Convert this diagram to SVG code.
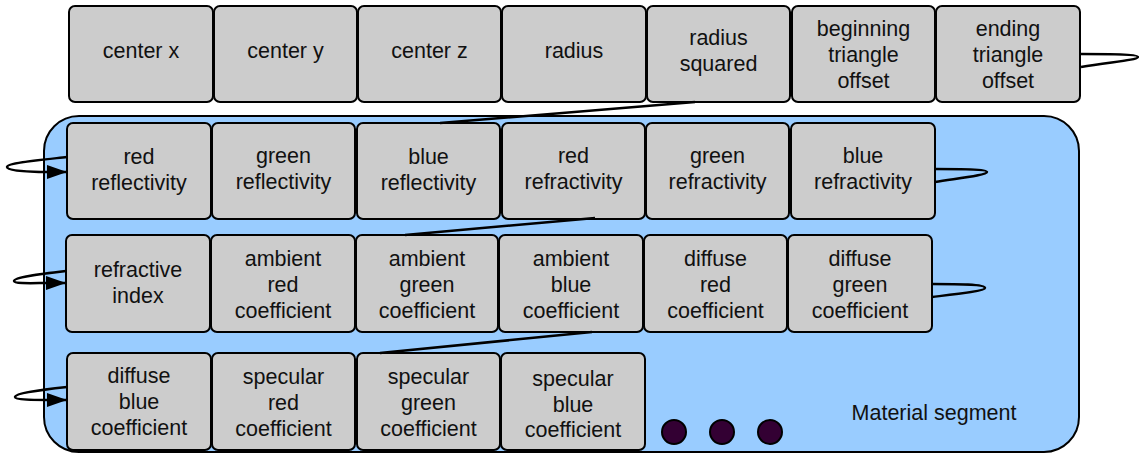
<svg xmlns="http://www.w3.org/2000/svg" width="1139" height="454" viewBox="0 0 1139 454">
  <style>
    .box { fill: #cccccc; stroke: #000; stroke-width: 2; }
    .lbl { font-family: "Liberation Sans", Arial, sans-serif; font-size: 21.5px; fill: #111; text-anchor: middle; }
    .seg { fill: #99ccff; stroke: #000; stroke-width: 2; }
    .dot { fill: #330033; stroke: #000; stroke-width: 2; }
    .wire { fill: none; stroke: #000; stroke-width: 2.5; }
  </style>
  <defs>
    <marker id="arrow" markerUnits="userSpaceOnUse" markerWidth="20" markerHeight="14" viewBox="0 0 20 14" refX="20" refY="7" orient="auto">
      <path d="M0,0 L20,7 L0,14 z" fill="#000"/>
    </marker>
  </defs>

  <!-- material segment container -->
  <g id="material-segment">
    <rect class="seg" x="44" y="116" width="1035" height="336" rx="35" ry="35"/>
    <text class="lbl" x="934" y="420">Material segment</text>
    <circle class="dot" cx="674" cy="432" r="12"/>
    <circle class="dot" cx="722" cy="432" r="12"/>
    <circle class="dot" cx="770" cy="432" r="12"/>
  </g>

  <!-- row 1: sphere geometry -->
  <g id="center-x"><rect class="box" x="69" y="6" width="144" height="96" rx="6"/><text class="lbl" x="141" y="58">center x</text></g>
  <g id="center-y"><rect class="box" x="214" y="6" width="143" height="96" rx="6"/><text class="lbl" x="285.5" y="58">center y</text></g>
  <g id="center-z"><rect class="box" x="358" y="6" width="143" height="96" rx="6"/><text class="lbl" x="429.5" y="58">center z</text></g>
  <g id="radius"><rect class="box" x="502" y="6" width="144" height="96" rx="6"/><text class="lbl" x="574" y="58">radius</text></g>
  <g id="radius-squared"><rect class="box" x="647" y="6" width="143" height="96" rx="6"/><text class="lbl" x="718.5" y="45">radius</text><text class="lbl" x="718.5" y="71">squared</text></g>
  <g id="beginning-triangle-offset"><rect class="box" x="792" y="6" width="143" height="96" rx="6"/><text class="lbl" x="863.5" y="36">beginning</text><text class="lbl" x="863.5" y="62">triangle</text><text class="lbl" x="863.5" y="88">offset</text></g>
  <g id="ending-triangle-offset"><rect class="box" x="936" y="6" width="144" height="96" rx="6"/><text class="lbl" x="1008" y="36">ending</text><text class="lbl" x="1008" y="62">triangle</text><text class="lbl" x="1008" y="88">offset</text></g>

  <!-- row 2 -->
  <g id="red-reflectivity"><rect class="box" x="67" y="123" width="144" height="96" rx="6"/><text class="lbl" x="139" y="164">red</text><text class="lbl" x="139" y="190">reflectivity</text></g>
  <g id="green-reflectivity"><rect class="box" x="212" y="123" width="143" height="96" rx="6"/><text class="lbl" x="283.5" y="163">green</text><text class="lbl" x="283.5" y="189">reflectivity</text></g>
  <g id="blue-reflectivity"><rect class="box" x="357" y="123" width="143" height="96" rx="6"/><text class="lbl" x="428.5" y="164">blue</text><text class="lbl" x="428.5" y="190">reflectivity</text></g>
  <g id="red-refractivity"><rect class="box" x="502" y="123" width="143" height="96" rx="6"/><text class="lbl" x="573.5" y="163">red</text><text class="lbl" x="573.5" y="189">refractivity</text></g>
  <g id="green-refractivity"><rect class="box" x="646" y="123" width="143" height="96" rx="6"/><text class="lbl" x="717.5" y="163">green</text><text class="lbl" x="717.5" y="189">refractivity</text></g>
  <g id="blue-refractivity"><rect class="box" x="791" y="123" width="144" height="96" rx="6"/><text class="lbl" x="863" y="163">blue</text><text class="lbl" x="863" y="189">refractivity</text></g>

  <!-- row 3 -->
  <g id="refractive-index"><rect class="box" x="66" y="235" width="144" height="97" rx="6"/><text class="lbl" x="138" y="277">refractive</text><text class="lbl" x="138" y="303">index</text></g>
  <g id="ambient-red-coefficient"><rect class="box" x="211" y="235" width="144" height="97" rx="6"/><text class="lbl" x="283" y="266">ambient</text><text class="lbl" x="283" y="292">red</text><text class="lbl" x="283" y="318">coefficient</text></g>
  <g id="ambient-green-coefficient"><rect class="box" x="356" y="235" width="142" height="97" rx="6"/><text class="lbl" x="427" y="266">ambient</text><text class="lbl" x="427" y="292">green</text><text class="lbl" x="427" y="318">coefficient</text></g>
  <g id="ambient-blue-coefficient"><rect class="box" x="499" y="235" width="144" height="97" rx="6"/><text class="lbl" x="571" y="266">ambient</text><text class="lbl" x="571" y="292">blue</text><text class="lbl" x="571" y="318">coefficient</text></g>
  <g id="diffuse-red-coefficient"><rect class="box" x="644" y="235" width="143" height="97" rx="6"/><text class="lbl" x="715.5" y="266">diffuse</text><text class="lbl" x="715.5" y="292">red</text><text class="lbl" x="715.5" y="318">coefficient</text></g>
  <g id="diffuse-green-coefficient"><rect class="box" x="788" y="235" width="144" height="97" rx="6"/><text class="lbl" x="860" y="266">diffuse</text><text class="lbl" x="860" y="292">green</text><text class="lbl" x="860" y="318">coefficient</text></g>

  <!-- row 4 -->
  <g id="diffuse-blue-coefficient"><rect class="box" x="67" y="353" width="144" height="97" rx="6"/><text class="lbl" x="139" y="383">diffuse</text><text class="lbl" x="139" y="409">blue</text><text class="lbl" x="139" y="435">coefficient</text></g>
  <g id="specular-red-coefficient"><rect class="box" x="212" y="353" width="143" height="97" rx="6"/><text class="lbl" x="283.5" y="384">specular</text><text class="lbl" x="283.5" y="410">red</text><text class="lbl" x="283.5" y="436">coefficient</text></g>
  <g id="specular-green-coefficient"><rect class="box" x="357" y="353" width="143" height="97" rx="6"/><text class="lbl" x="428.5" y="384">specular</text><text class="lbl" x="428.5" y="410">green</text><text class="lbl" x="428.5" y="436">coefficient</text></g>
  <g id="specular-blue-coefficient"><rect class="box" x="501" y="353" width="144" height="97" rx="6"/><text class="lbl" x="573" y="386">specular</text><text class="lbl" x="573" y="412">blue</text><text class="lbl" x="573" y="437">coefficient</text></g>

  <!-- row wrap connectors -->
  <g id="connectors">
    <path class="wire" d="M1081,54 C1110,54 1138,54 1138,57 C1138,60 1110,62 1081,67"/>
    <path class="wire" d="M695,102 L440,123"/>
    <path class="wire" marker-end="url(#arrow)" d="M67,157 C40,160 7,163 7,167 C7,171 30,172 49,172 L67,172"/>

    <path class="wire" d="M935,169 C960,169 987,169 987,172 C987,175 960,178 935,182"/>
    <path class="wire" d="M595,218 L405,235"/>
    <path class="wire" marker-end="url(#arrow)" d="M66,271 C40,274 14,277 14,281 C14,284 35,283 47,283 L66,283"/>

    <path class="wire" d="M932,284 C957,284 985,284 985,288 C985,291 957,294 932,297"/>
    <path class="wire" d="M592,332 L380,353"/>
    <path class="wire" marker-end="url(#arrow)" d="M67,387 C40,390 15,393 15,397 C15,400 35,400 48,400 L67,400"/>
  </g>
</svg>
